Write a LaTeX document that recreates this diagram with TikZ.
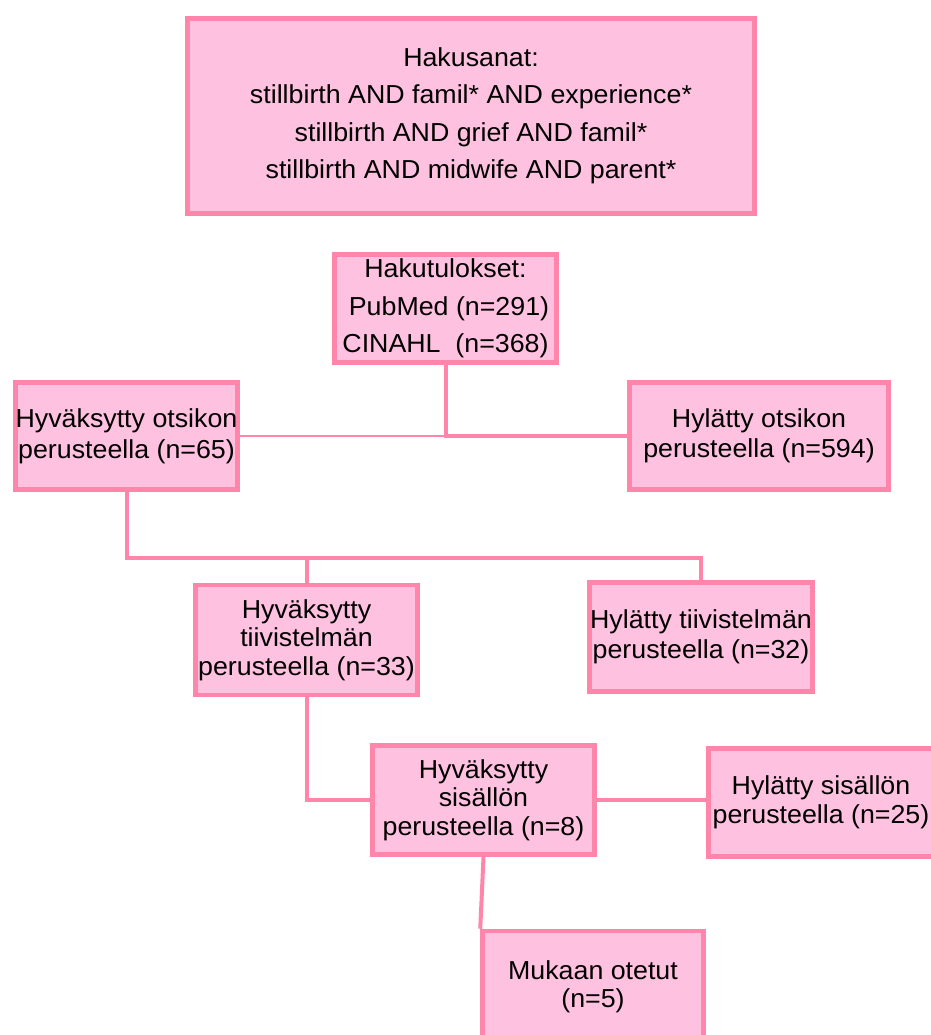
\documentclass[tikz,border=0pt]{standalone}
\usepackage{fontspec}
\setmainfont{Liberation Sans}[FakeStretch=1.03]
\definecolor{boxfill}{RGB}{255,193,224}
\definecolor{boxline}{RGB}{255,133,170}
\begin{document}
\begin{tikzpicture}[x=1pt,y=-1pt,
  box/.style={draw=boxline,fill=boxfill,line width=4.5pt,inner sep=0pt,align=center,text=black},
  link/.style={draw=boxline,line width=4pt},
  thinlink/.style={draw=boxline,line width=2.2pt}]
\useasboundingbox (0,0) rectangle (930,1035);
\node[box,minimum width=567pt,minimum height=195pt,font=\fontsize{26}{37.5}\selectfont] (top) at (471,116)
  {Hakusanat:\\stillbirth AND famil* AND experience*\\stillbirth AND grief AND famil*\\stillbirth AND midwife AND parent*};
\node[box,minimum width=222pt,minimum height=108pt,font=\fontsize{26}{37.5}\selectfont] (hak) at (445.5,308.5)
  {Hakutulokset:\\\hspace{7pt}PubMed (n=291)\\CINAHL\ \ (n=368)};
\node[box,minimum width=222pt,minimum height=107pt,font=\fontsize{26}{31}\selectfont] (hyvo) at (126.5,436)
  {Hyväksytty otsikon\\perusteella (n=65)};
\node[box,minimum width=259pt,minimum height=107pt,font=\fontsize{26}{30}\selectfont] (hylo) at (759,436)
  {Hylätty otsikon\\perusteella (n=594)};
\node[box,minimum width=222pt,minimum height=110pt,font=\fontsize{26}{28.5}\selectfont] (hyvt) at (306.5,640)
  {Hyväksytty\\tiivistelmän\\perusteella (n=33)};
\node[box,minimum width=223pt,minimum height=109pt,font=\fontsize{26}{30}\selectfont] (hylt) at (701,637)
  {Hylätty tiivistelmän\\perusteella (n=32)};
\node[box,minimum width=222pt,minimum height=109pt,font=\fontsize{26}{28.5}\selectfont] (hyvs) at (483.5,800)
  {Hyväksytty\\sisällön\\perusteella (n=8)};
\node[box,minimum width=225pt,minimum height=108pt,font=\fontsize{26}{29}\selectfont] (hyls) at (821,802.5)
  {Hylätty sisällön\\perusteella (n=25)};
\node[box,minimum width=221pt,minimum height=112pt,font=\fontsize{26}{28}\selectfont] (muk) at (593,987)
  {Mukaan otetut\\(n=5)};
% connectors
\draw[link] (hak.south) |- (hylo.west);
\draw[thinlink] (hyvo.east) -- (hyvo.east -| hak.south);
\coordinate (b1) at (hyvo.south |- 0,558);
\draw[link] (hyvo.south) -- (b1) -- (b1 -| hylt.north) -- (hylt.north);
\draw[link] (b1 -| hyvt.north) -- (hyvt.north);
\draw[link] (hyvt.south) |- (hyvs.west);
\draw[link] (hyvs.east) -- (hyvs.east -| hyls.west);
\draw[link] (hyvs.south) -- (muk.north west);
\end{tikzpicture}
\end{document}
